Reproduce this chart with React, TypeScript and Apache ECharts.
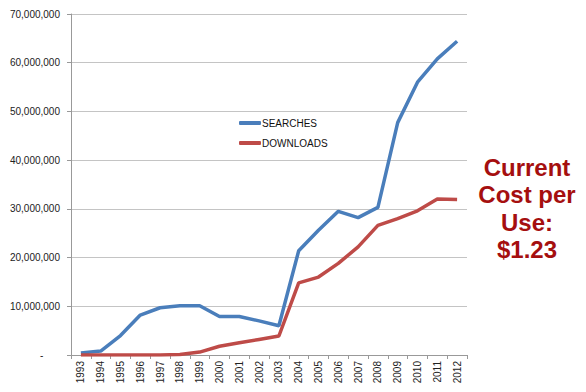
import React, { useEffect, useRef } from "react";
import * as echarts from "echarts";

const years = ["1993","1994","1995","1996","1997","1998","1999","2000","2001","2002","2003","2004","2005","2006","2007","2008","2009","2010","2011","2012"];
const searches = [400000, 800000, 4000000, 8200000, 9700000, 10100000, 10100000, 7900000, 7900000, 7000000, 6000000, 21400000, 25600000, 29500000, 28200000, 30300000, 47700000, 56000000, 60800000, 64400000];
const downloads = [0, 0, 0, 0, 0, 100000, 600000, 1800000, 2500000, 3200000, 3900000, 14800000, 16000000, 18800000, 22200000, 26600000, 28000000, 29600000, 32000000, 31900000];
const noteLines = ["Current", "Cost per", "Use:", "$1.23"];

export default function App() {
  const ref = useRef<HTMLDivElement>(null);
  useEffect(() => {
    if (!ref.current) return;
    const chart = echarts.init(ref.current, null, { renderer: "svg" });
    const font = "'Liberation Sans', Arial, Helvetica, sans-serif";
    chart.setOption({
      animation: false,
      backgroundColor: "#ffffff",
      textStyle: { fontFamily: font },
      grid: { left: 71, right: 119, top: 14, bottom: 37, containLabel: false },
      legend: {
        orient: "vertical",
        left: 234,
        top: 113,
        itemWidth: 22,
        itemHeight: 4,
        itemGap: 10,
        icon: "roundRect",
        textStyle: { fontSize: 10, color: "#111", fontFamily: font, padding: [0, 0, 0, -4] },
        data: ["SEARCHES", "DOWNLOADS"],
      },
      xAxis: {
        type: "category",
        data: years,
        boundaryGap: true,
        axisLine: { lineStyle: { color: "#999", width: 1 } },
        axisTick: { show: true, length: 4, lineStyle: { color: "#999" } },
        axisLabel: { rotate: 90, fontSize: 10, color: "#222", margin: 6, fontFamily: font },
      },
      yAxis: {
        type: "value",
        min: 0,
        max: 70000000,
        interval: 10000000,
        axisLine: { show: true, lineStyle: { color: "#999", width: 1 } },
        axisTick: { show: true, length: 4, lineStyle: { color: "#999" } },
        splitLine: { lineStyle: { color: "#c4c4c4", width: 1 } },
        axisLabel: {
          fontSize: 10,
          color: "#222",
          margin: 11,
          fontFamily: font,
          formatter: (v: number) => (v === 0 ? "-      " : v.toLocaleString("en-US")),
        },
      },
      series: [
        {
          name: "SEARCHES",
          type: "line",
          data: searches,
          symbol: "none",
          lineStyle: { color: "#4a7ebb", width: 3.5 },
          itemStyle: { color: "#4a7ebb" },
        },
        {
          name: "DOWNLOADS",
          type: "line",
          data: downloads,
          symbol: "none",
          lineStyle: { color: "#be4b48", width: 3.5 },
          itemStyle: { color: "#be4b48" },
        },
      ],
      graphic: noteLines.map((t, i) => ({
        type: "text",
        x: 527,
        y: 167 + i * 27.5,
        style: {
          text: t,
          textAlign: "center",
          textVerticalAlign: "middle",
          fontSize: 24,
          fontWeight: "bold",
          fill: "#a50f0f",
          fontFamily: font,
        },
      })),
    });
    return () => chart.dispose();
  }, []);
  return <div ref={ref} style={{ width: 586, height: 392, position: "absolute", left: 0, top: 0 }} />;
}
